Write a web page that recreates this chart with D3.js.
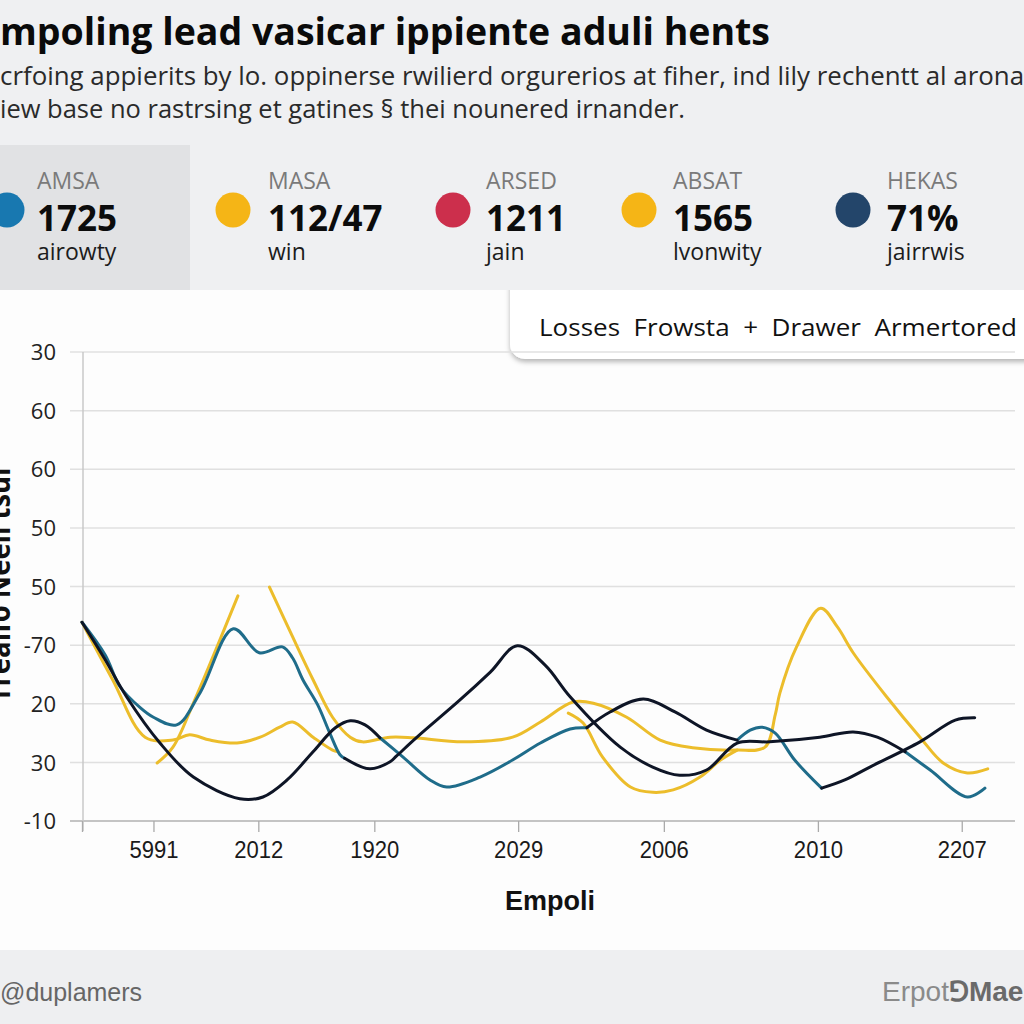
<!DOCTYPE html>
<html><head><meta charset="utf-8">
<script src="https://cdn.jsdelivr.net/npm/d3@7"></script>
<style>body{margin:0;background:#eff0f2}svg{display:block}</style>
</head><body>
<svg id="c" width="1024" height="1024"></svg>
<script>
// ---------- data ----------
const titleText = "mpoling lead vasicar ippiente aduli hents";
const subtitleLines = ["crfoing appierits by lo. oppinerse rwilierd orgurerios at fiher, ind lily rechentt al arona",
                       "iew base no rastrsing et gatines \u00a7 thei nounered irnander."];
const kpiNames  = ["AMSA", "MASA", "ARSED", "ABSAT", "HEKAS"];
const kpiValues = ["1725", "112/47", "1211", "1565", "71%"];
const kpiSubs   = ["airowty", "win", "jain", "lvonwity", "jairrwis"];
const kpiColors = ["#1878b0", "#f5b516", "#cc2f4c", "#f5b516", "#23456a"];
const legendText = "Losses  Frowsta  +  Drawer  Armertored";
const yTickValues = [0, 10, 20, 30, 40, 50, 60, 70, 80];
const yTickLabels = ["-10", "30", "20", "-70", "50", "50", "60", "60", "30"];
const xTickValues = [0, 7.7, 19.0, 31.5, 47.0, 62.7, 79.3, 94.8];
const xTickLabels = ["", "5991", "2012", "1920", "2029", "2006", "2010", "2207"];
const yAxisTitle = "Trealfo Neell tsul";
const xAxisTitle = "Empoli";
const footerLeft = "@duplamers";

// series pieces [x, value]
const blackA = [[0,33.9],[2.5,27.5],[4.8,21.2],[8.4,13.3],[12.0,7.5],[17.0,3.8],[19.5,4.1],[22.1,7.0],[24.9,11.8],[27.3,15.9],[28.9,17.1],[30.5,16.4],[32.1,14.2]];
const blackB = [[28.3,10.7],[31.0,8.9],[33.2,10.1],[33.9,11.1],[36.1,14.3],[40.7,20.6],[44.0,25.4],[46.9,29.9],[49.9,26.6],[52.6,21.2],[58.0,12.6],[61.5,9.2],[64.4,7.8],[67.3,8.7],[70.6,13.3],[74.1,13.5],[79.5,14.3],[83.1,15.2],[85.7,14.3],[88.7,11.8]];
const blackC = [[54.4,15.9],[56.9,18.6],[60.5,20.8],[63.9,18.6],[67.3,15.5],[70.6,13.8]];
const blackD = [[79.7,5.6],[82.2,7.0],[84.9,9.2],[90.3,13.5],[94.1,17.2],[96.2,17.6]];
const tealA = [[0,33.9],[2.5,28.3],[4.1,22.9],[6.3,19.3],[7.7,17.7],[10.2,16.4],[12.7,21.8],[16.3,32.8],[19.1,28.7],[21.6,29.7],[22.7,27.8],[23.8,24.1],[25.4,19.8],[26.7,15.0],[27.8,11.3],[28.3,10.7]];
const tealB = [[32.1,14.2],[34.6,10.9],[37.5,7.0],[39.3,5.8],[42.9,7.5],[46.4,10.4],[49.4,13.3],[52.6,15.7],[54.4,15.9]];
const tealC = [[70.6,13.8],[72.0,15.5],[73.3,16.0],[74.7,15.0],[76.8,10.4],[79.7,5.6]];
const tealD = [[88.7,11.8],[91.4,8.7],[95.4,4.1],[97.3,5.6]];
const yellowA = [[0,33.9],[3.3,24.1],[6.8,14.3],[9.8,13.8],[11.6,14.7],[13.8,13.8],[16.7,13.3],[19.2,14.3],[21.3,16.0],[22.7,16.9],[24.9,14.3],[27.0,12.1],[27.6,11.8]];
const yellowB = [[8.1,9.9],[9.8,12.6],[12.0,20.1],[16.8,38.4]];
const yellowC = [[20.2,39.9],[22.7,31.4],[24.9,24.1],[27.0,17.7],[28.9,14.3],[30.2,13.5],[33.2,14.3],[35.7,14.2],[41.1,13.5],[46.4,14.3],[49.4,16.9],[52.9,20.3],[55.1,20.1],[58.7,17.7],[62.3,13.8],[65.8,12.5],[70.6,12.1],[73.6,12.6],[74.7,18.1],[75.2,21.8],[77.0,29.7],[79.6,36.3],[81.4,33.1],[83.1,28.7],[86.7,21.2],[90.3,14.3],[92.8,9.9],[95.4,8.2],[97.6,8.9]];
const yellowD = [[52.4,18.4],[54.0,16.7],[56.1,10.9],[59.1,5.8],[61.5,4.9],[63.7,5.3],[66.6,7.5],[68.8,10.4],[70.6,12.1]];

// ---------- drawing ----------
const svg = d3.select("#c");
const W = 1024;
const defs = svg.append("defs");
const f = defs.append("filter").attr("id","sh").attr("x","-10%").attr("y","-30%").attr("width","130%").attr("height","180%");
f.append("feDropShadow").attr("dx",0).attr("dy",3).attr("stdDeviation",2.5).attr("flood-color","#000").attr("flood-opacity",0.28);

// plot panel + legend box first, header band painted over the box top
svg.append("rect").attr("x",0).attr("y",290).attr("width",W).attr("height",660).attr("fill","#fdfdfd");
svg.append("rect").attr("x",510).attr("y",250).attr("width",560).attr("height",109).attr("rx",15)
  .attr("fill","#ffffff").attr("filter","url(#sh)");
svg.append("rect").attr("x",0).attr("y",0).attr("width",W).attr("height",290).attr("fill","#eff0f2");
svg.append("rect").attr("x",0).attr("y",145).attr("width",190).attr("height",145).attr("fill","#e1e2e4");
svg.append("rect").attr("x",0).attr("y",950).attr("width",W).attr("height",74).attr("fill","#eeeff1");

// title
svg.append("text").attr("x",0).attr("y",45).text(titleText)
  .attr("font-family","Open Sans, sans-serif").attr("font-weight",700).attr("font-size",37)
  .attr("fill","#0a0a0a").attr("textLength",770).attr("lengthAdjust","spacingAndGlyphs");
const subW = [1024, 685];
subtitleLines.forEach((s,i)=>{
  svg.append("text").attr("x",0).attr("y",85+i*33).text(s)
    .attr("font-family","Open Sans, sans-serif").attr("font-size",25).attr("fill","#2a2a2a")
    .attr("textLength",subW[i]).attr("lengthAdjust","spacingAndGlyphs");
});

// KPIs
const kx = [37, 268, 486, 673, 887];
const cx = [7, 233, 453, 639, 853];
kpiNames.forEach((n,i)=>{
  svg.append("circle").attr("cx",cx[i]).attr("cy",210).attr("r",17.5).attr("fill",kpiColors[i]);
  svg.append("text").attr("x",kx[i]).attr("y",189).text(n)
    .attr("font-family","Open Sans, sans-serif").attr("font-size",23).attr("fill","#7a7a7a");
  svg.append("text").attr("x",kx[i]).attr("y",231).text(kpiValues[i])
    .attr("font-family","Open Sans, sans-serif").attr("font-weight",700).attr("font-size",35).attr("fill","#0c0c0c");
  svg.append("text").attr("x",kx[i]).attr("y",260).text(kpiSubs[i])
    .attr("font-family","Open Sans, sans-serif").attr("font-size",23).attr("fill","#1c1c1c");
});

// legend text
svg.append("text").attr("x",539).attr("y",336).text(legendText)
  .style("white-space","pre")
  .attr("font-family","Open Sans, sans-serif").attr("font-size",24).attr("fill","#111")
  .attr("textLength",478).attr("lengthAdjust","spacingAndGlyphs");

// scales
const x = d3.scaleLinear().domain([0,100]).range([82,1010]);
const y = d3.scaleLinear().domain([0,80]).range([821,352]);

// grid
const g = svg.append("g");
g.selectAll("line.grid").data(yTickValues.slice(1)).join("line")
  .attr("x1",70).attr("x2",1015).attr("y1",d=>y(d)).attr("y2",d=>y(d))
  .attr("stroke","#e0e0e0").attr("stroke-width",1.5);
g.append("line").attr("x1",70).attr("x2",1015).attr("y1",y(0)).attr("y2",y(0)).attr("stroke","#c4c4c4").attr("stroke-width",2);
g.append("line").attr("x1",x(0)+1).attr("x2",x(0)+1).attr("y1",y(80)).attr("y2",y(0)+10).attr("stroke","#c8c8c8").attr("stroke-width",1.5);

// y axis labels
const yAxis = d3.axisLeft(y).tickValues(yTickValues).tickFormat((d,i)=>yTickLabels[i]).tickSize(0).tickPadding(0);
const ya = svg.append("g").attr("transform","translate(56,0)").call(yAxis);
ya.select(".domain").remove();
ya.selectAll("text").attr("font-family","Open Sans, sans-serif").attr("font-size",22).attr("fill","#222").attr("dy","0.35em");

// x axis
const xAxis = d3.axisBottom(x).tickValues(xTickValues).tickFormat((d,i)=>xTickLabels[i]).tickSize(11).tickPadding(9);
const xa = svg.append("g").attr("transform",`translate(0,${y(0)})`).call(xAxis);
xa.select(".domain").remove();
xa.selectAll("line").attr("stroke","#aaa").attr("stroke-width",1.3);
xa.selectAll("text").attr("font-family","Liberation Sans Narrow, Arial Narrow, sans-serif").attr("font-size",24).attr("fill","#1a1a1a")
  .attr("transform","scale(0.92,1)");

// axis titles
svg.append("text").attr("x",550).attr("y",910).attr("text-anchor","middle").text(xAxisTitle)
  .attr("font-family","Liberation Sans, Arial, sans-serif").attr("font-weight",700).attr("font-size",27).attr("fill","#111");
svg.append("text").attr("transform","translate(10,585) rotate(-90)").attr("text-anchor","middle").text(yAxisTitle)
  .attr("font-family","Open Sans, sans-serif").attr("font-weight",700).attr("font-size",30).attr("fill","#111")
  .attr("textLength",235).attr("lengthAdjust","spacingAndGlyphs");

// lines
const line = d3.line().x(d=>x(d[0])).y(d=>y(d[1])).curve(d3.curveCatmullRom.alpha(0.5));
const YEL = "#ecbd2b", TEAL = "#1f6c8a", BLK = "#0e1526";
const pieces = [
  [yellowA, YEL], [yellowB, YEL], [yellowD, YEL], [yellowC, YEL],
  [tealA, TEAL], [tealB, TEAL], [tealC, TEAL], [tealD, TEAL],
  [blackC, BLK], [blackB, BLK], [blackD, BLK], [blackA, BLK]
];
const lg = svg.append("g").attr("fill","none").attr("stroke-width",3).attr("stroke-linecap","round").attr("stroke-linejoin","round");
pieces.forEach(p=>{
  lg.append("path").datum(p[0]).attr("d",line).attr("stroke",p[1]);
});

// footer
svg.append("text").attr("x",0).attr("y",1001).text(footerLeft)
  .attr("font-family","Liberation Sans Narrow, Arial Narrow, sans-serif").attr("font-size",25).attr("fill","#666");
const fr = svg.append("text").attr("x",882).attr("y",1001)
  .attr("font-family","Liberation Sans Narrow, Arial Narrow, sans-serif").attr("font-size",28).attr("fill","#8a8a8a");
fr.append("tspan").text("Erpot");
fr.append("tspan").attr("font-weight",700).attr("fill","#6a6a6a").text("\u2141Mae");
</script>
</body></html>
